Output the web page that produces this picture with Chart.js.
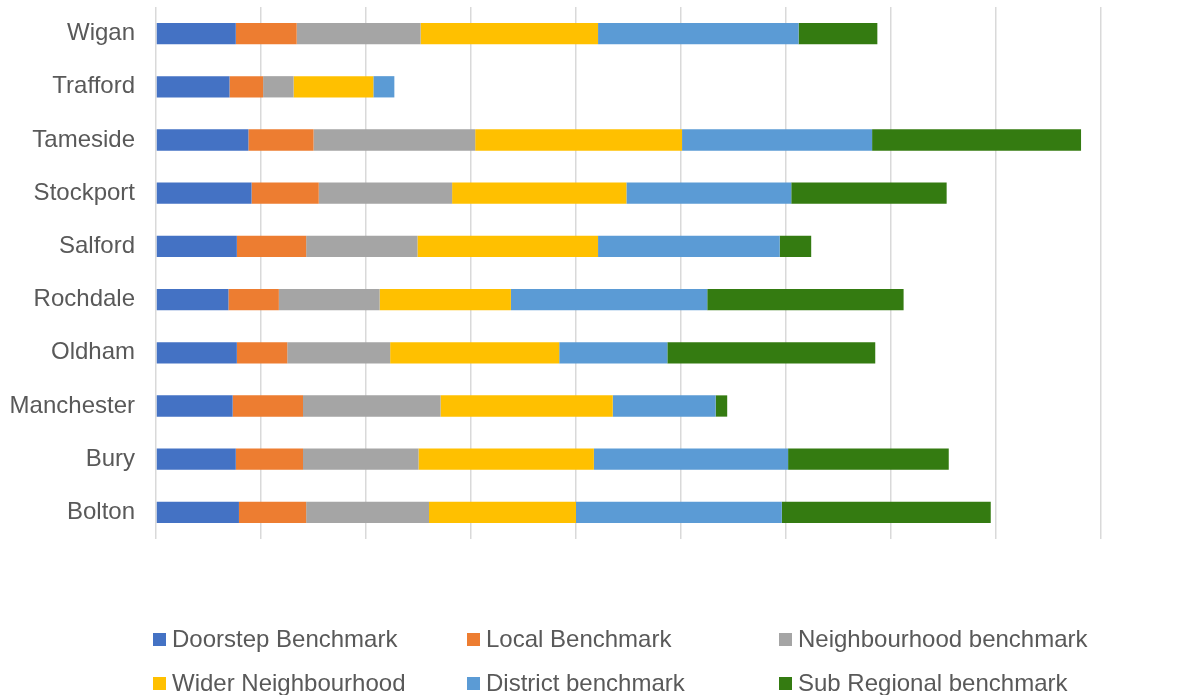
<html>

<head>
    <script src="https://cdn.jsdelivr.net/npm/chart.js"></script>
    <style>
        html, body {
            margin: 0;
            padding: 0;
            background: #ffffff;
        }

        #chart-container {
            width: 1201px;
            height: 695px;
            position: relative;
        }
    </style>
</head>

<body>
    <div id="chart-container">
        <canvas id="benchmark-chart"></canvas>
    </div>

    <script>
        // Districts, listed bottom to top
        const districts = ['Bolton', 'Bury', 'Manchester', 'Oldham', 'Rochdale', 'Salford', 'Stockport', 'Tameside', 'Trafford', 'Wigan'];

        const doorstep      = [0.79, 0.76, 0.73, 0.77, 0.69, 0.77, 0.91, 0.88, 0.70, 0.76];
        const local         = [0.64, 0.64, 0.67, 0.48, 0.48, 0.66, 0.64, 0.62, 0.32, 0.58];
        const neighbourhood = [1.17, 1.10, 1.31, 0.98, 0.96, 1.06, 1.27, 1.54, 0.29, 1.18];
        const wider         = [1.40, 1.67, 1.64, 1.61, 1.25, 1.72, 1.66, 1.97, 0.76, 1.69];
        const district      = [1.96, 1.85, 0.98, 1.03, 1.87, 1.73, 1.57, 1.81, 0.20, 1.91];
        const subRegional   = [1.99, 1.53, 0.11, 1.98, 1.87, 0.30, 1.48, 1.99, 0.00, 0.75];

        const seriesNames = ['Doorstep Benchmark', 'Local Benchmark', 'Neighbourhood benchmark',
            'Wider Neighbourhood', 'District benchmark', 'Sub Regional benchmark'];
        const seriesData = [doorstep, local, neighbourhood, wider, district, subRegional];
        const seriesColors = ['#4472C4', '#ED7D31', '#A5A5A5', '#FFC000', '#5B9BD5', '#347B11'];

        const FONT = "'Liberation Sans', Arial, sans-serif";
        const TEXT_COLOR = '#595959';

        // legend in a 3-column grid under the plot
        const gridLegend = {
            id: 'gridLegend',
            afterDraw(chart) {
                const ctx = chart.ctx;
                const colX = [153, 467, 779];
                const rowY = [639, 683];
                ctx.save();
                ctx.font = '24px ' + FONT;
                ctx.textBaseline = 'middle';
                ctx.textAlign = 'left';
                chart.data.datasets.forEach((ds, i) => {
                    const x = colX[i % 3];
                    const y = rowY[Math.floor(i / 3)];
                    ctx.fillStyle = ds.backgroundColor;
                    ctx.fillRect(x, y - 6, 13, 13);
                    ctx.fillStyle = TEXT_COLOR;
                    ctx.fillText(ds.label, x + 19, y + 1);
                });
                ctx.restore();
            }
        };

        const ctx = document.getElementById('benchmark-chart').getContext('2d');
        const chart = new Chart(ctx, {
            type: 'bar',
            data: {
                labels: districts,
                datasets: seriesNames.map((name, i) => ({
                    label: name,
                    data: seriesData[i],
                    backgroundColor: seriesColors[i],
                    borderWidth: 0,
                    barPercentage: 0.4,
                    categoryPercentage: 1.0
                }))
            },
            options: {
                indexAxis: 'y',
                responsive: true,
                maintainAspectRatio: false,
                animation: false,
                layout: {
                    padding: { top: 7, right: 100, bottom: 156, left: 0 }
                },
                plugins: {
                    legend: { display: false },
                    tooltip: { enabled: false }
                },
                scales: {
                    x: {
                        stacked: true,
                        min: 0,
                        max: 9,
                        ticks: { display: false, stepSize: 1 },
                        grid: {
                            color: '#D9D9D9',
                            lineWidth: 1.5,
                            drawTicks: false
                        },
                        border: { display: false },
                        afterFit(scale) {
                            scale.height = 0;
                            scale.paddingLeft = 0;
                            scale.paddingRight = 0;
                        }
                    },
                    y: {
                        stacked: true,
                        reverse: true,
                        grid: { display: false, drawTicks: false },
                        border: { display: false },
                        ticks: {
                            color: TEXT_COLOR,
                            padding: 21,
                            font: { family: FONT, size: 24 }
                        },
                        afterFit(scale) {
                            scale.width = 156;
                            scale.paddingTop = 0;
                            scale.paddingBottom = 0;
                        }
                    }
                }
            },
            plugins: [gridLegend]
        });
    </script>
</body>

</html>
